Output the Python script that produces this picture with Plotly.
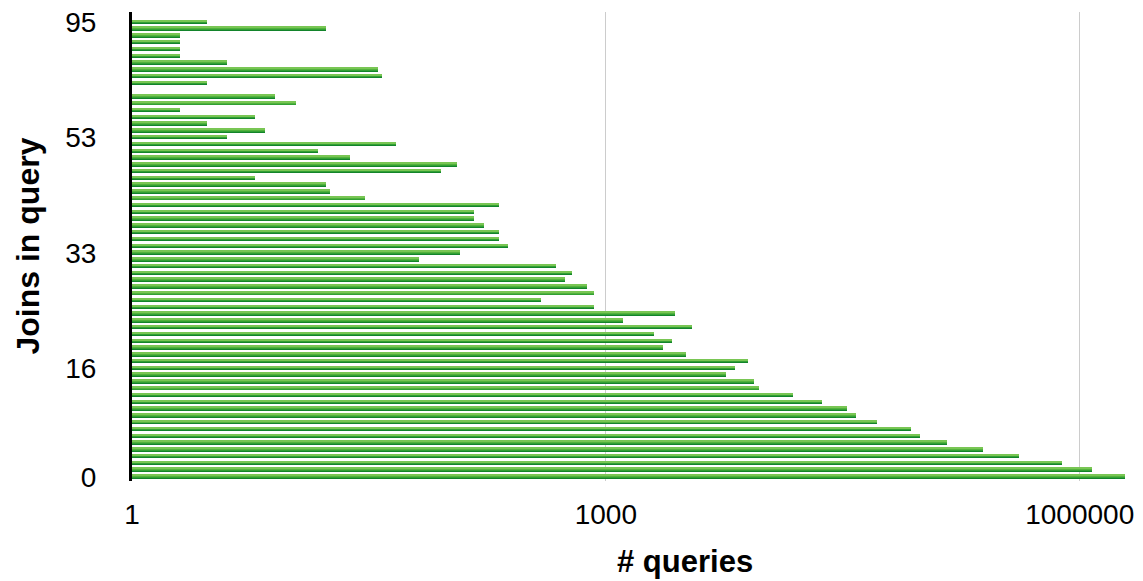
import plotly.graph_objects as go

# ---- data ----
joins = [str(v) for v in list(range(0, 34))] + [
    "34", "35", "36", "37", "38", "39", "40", "41", "42", "43", "44", "46", "47", "48", "50", "51", "53",
    "54", "55", "56", "57", "58", "60", "62", "63", "65", "67", "70", "72", "75", "78", "83", "88", "95",
]
queries = [
    1931000, 1196000, 768900, 413300, 244300, 144300, 97210, 85240, 51790, 38340,
    33630, 23520, 15270, 9357, 8604, 5743, 6550, 7907, 3238, 2287,
    2608, 2005, 3524, 1288, 2733, 836, 391, 836, 762, 553,
    608, 485, 66, 119, 240, 210, 210, 169, 147, 147,
    210, 30, 18, 17, 6, 91, 114, 24, 15, 47,
    4, 7, 3, 6, 2, 11, 8, 1, 3, 38,
    36, 4, 2, 2, 2, 2, 17, 3,
]
y_tick_labels = ["0", "16", "33", "53", "95"]
x_tick_vals = [1, 1000, 1000000]
x_tick_text = ["1", "1000", "1000000"]

FONT = "Liberation Sans, Arial, Helvetica, sans-serif"

# gradient look: stacked overlays, dark full bar at bottom, lighter narrower on top
layers = [
    ("#13842b", 0.58, -0.29),
    ("#33a034", 0.44, -0.15),
    ("#52b23d", 0.30, -0.01),
    ("#79c654", 0.15, 0.14),
]

fig = go.Figure()
for color, w, off in layers:
    fig.add_trace(go.Bar(
        x=queries, y=joins, orientation="h",
        width=w, offset=off,
        marker=dict(color=color, line=dict(width=0)),
        showlegend=False, hoverinfo="x+y",
    ))

L, R, T, B = 132, 8, 12, 100
W, H = 1143, 581
pw = W - L - R
ph = H - T - B

fig.update_layout(
    width=W, height=H,
    margin=dict(l=L, r=R, t=T, b=B, autoexpand=False),
    paper_bgcolor="white", plot_bgcolor="white",
    barmode="overlay", bargap=0,
    font=dict(family=FONT, size=28, color="black"),
    xaxis=dict(
        type="log", range=[0, 6.35],
        tickmode="array", tickvals=x_tick_vals, ticktext=x_tick_text,
        showgrid=True, gridcolor="#cccccc", gridwidth=1,
        showline=False, zeroline=False, ticks="",
        tickfont=dict(family=FONT, size=28, color="black"),
        ticklabelstandoff=14,
    ),
    yaxis=dict(
        type="category", categoryorder="array", categoryarray=joins,
        range=[-0.63, 68.48],
        tickmode="array", tickvals=y_tick_labels,
        showgrid=False, zeroline=False,
        showline=True, linecolor="black", linewidth=3,
        ticks="", tickfont=dict(family=FONT, size=28, color="black"),
        ticklabelstandoff=27,
    ),
    annotations=[
        dict(text="<b># queries</b>", xref="paper", yref="paper",
             x=(685 - L) / pw, y=(H - B - 561) / ph,
             xanchor="center", yanchor="middle", showarrow=False,
             font=dict(family=FONT, size=31, color="black")),
        dict(text="<b>Joins in query</b>", xref="paper", yref="paper",
             x=(27.5 - L) / pw, y=(H - B - 246) / ph, textangle=-90,
             xanchor="center", yanchor="middle", showarrow=False,
             font=dict(family=FONT, size=32, color="black")),
    ],
)

fig.write_html("out.html", config={"displayModeBar": False},
               post_script="document.body.style.margin='0';")
